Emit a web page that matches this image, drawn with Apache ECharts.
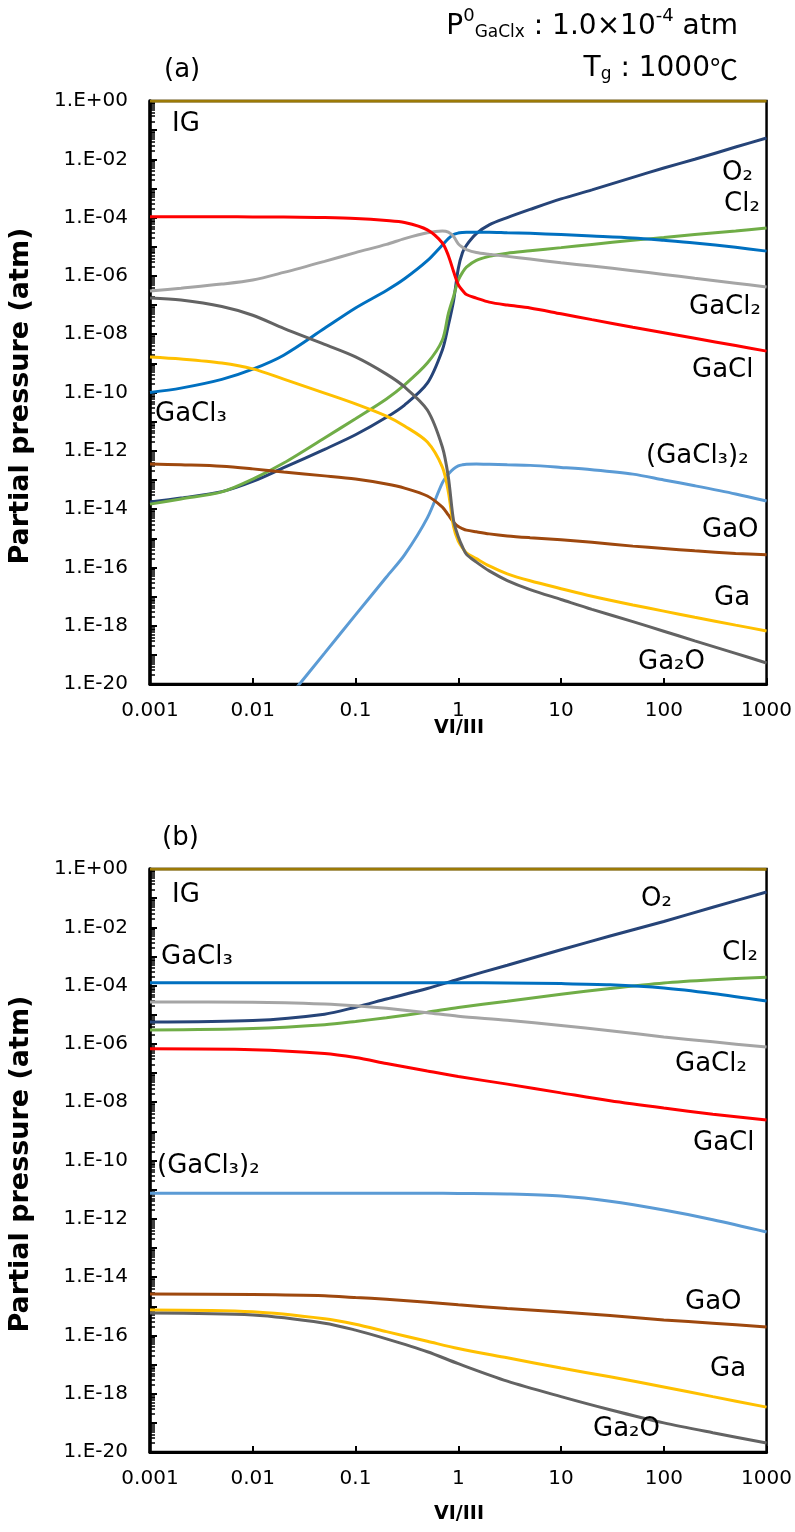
<!DOCTYPE html>
<html>
<head>
<meta charset="utf-8">
<script src="https://cdn.jsdelivr.net/npm/echarts@6/dist/echarts.min.js"></script>
<style>
  html, body { margin: 0; padding: 0; background: #fff; }
  #chart { width: 795px; height: 1532px; }
</style>
</head>
<body>
<div id="chart"></div>
<script>
// VI/III ratio (x) and log10 of partial pressure in atm (y)
// (a)
const xA = [0.001, 0.002, 0.005, 0.01, 0.02, 0.05, 0.1, 0.2, 0.3, 0.5, 0.7, 0.8, 0.9, 1,
  1.1, 1.2, 1.5, 2, 3, 5, 10, 20, 50, 100, 200, 500, 1000];
const igA = [0, 0, 0, 0, 0, 0, 0, 0, 0, 0, 0, 0, 0, 0, 0, 0, 0, 0, 0, 0, 0, 0, 0, 0, 0, 0, 0];
const o2A = [-13.76, -13.62, -13.4, -13.05, -12.58, -11.95, -11.45, -10.85, -10.43, -9.68, -8.54, -7.7, -6.85, -5.75,
  -5.2, -4.95, -4.55, -4.25, -4.0, -3.72, -3.36, -3.05, -2.62, -2.3, -2.0, -1.58, -1.27];
const cl2A = [-13.83, -13.65, -13.41, -12.97, -12.42, -11.56, -10.9, -10.22, -9.74, -8.99, -8.2, -7.3, -6.7, -6.15,
  -5.88, -5.7, -5.47, -5.33, -5.22, -5.14, -5.03, -4.92, -4.78, -4.68, -4.58, -4.46, -4.36];
const gacl3A = [-10.0, -9.85, -9.55, -9.2, -8.72, -7.8, -7.1, -6.5, -6.1, -5.48, -4.94, -4.72, -4.58, -4.53,
  -4.51, -4.5, -4.5, -4.5, -4.52, -4.54, -4.58, -4.63, -4.7, -4.78, -4.87, -5.02, -5.15];
const gacl2A = [-6.52, -6.42, -6.28, -6.14, -5.88, -5.5, -5.2, -4.92, -4.72, -4.52, -4.46, -4.5, -4.65, -4.9,
  -5.02, -5.1, -5.2, -5.26, -5.33, -5.42, -5.55, -5.66, -5.82, -5.95, -6.08, -6.25, -6.38];
const gaclA = [-3.97, -3.97, -3.97, -3.98, -3.98, -4.0, -4.03, -4.1, -4.17, -4.42, -4.87, -5.3, -5.85, -6.3,
  -6.5, -6.64, -6.76, -6.9, -7.0, -7.1, -7.3, -7.5, -7.76, -7.95, -8.14, -8.39, -8.58];
const dimerA = [null, null, null, null, -20.67, -18.94, -17.63, -16.33, -15.57, -14.3, -13.1, -12.8, -12.62, -12.52,
  -12.48, -12.46, -12.45, -12.46, -12.48, -12.5, -12.57, -12.65, -12.8, -13.0, -13.2, -13.48, -13.72];
const gaoA = [-12.45, -12.48, -12.53, -12.62, -12.73, -12.86, -12.97, -13.14, -13.28, -13.55, -13.93, -14.2, -14.45, -14.6,
  -14.67, -14.72, -14.78, -14.85, -14.92, -14.98, -15.05, -15.14, -15.27, -15.35, -15.43, -15.52, -15.57];
const gaA = [-8.78, -8.85, -8.99, -9.19, -9.54, -10.02, -10.39, -10.81, -11.15, -11.7, -12.56, -13.4, -14.6, -15.1,
  -15.33, -15.5, -15.7, -15.95, -16.22, -16.46, -16.73, -16.99, -17.29, -17.5, -17.71, -17.98, -18.18];
const ga2oA = [-6.76, -6.83, -7.05, -7.35, -7.8, -8.35, -8.78, -9.37, -9.81, -10.6, -11.87, -12.9, -14.4, -14.95,
  -15.3, -15.55, -15.82, -16.12, -16.45, -16.76, -17.1, -17.44, -17.86, -18.19, -18.52, -18.95, -19.28];

// (b)
const xB = [0.001, 0.01, 0.05, 0.1, 0.2, 0.5, 1, 3, 10, 30, 100, 300, 1000];
const igB = [0, 0, 0, 0, 0, 0, 0, 0, 0, 0, 0, 0, -0.01];
const o2B = [-5.25, -5.2, -4.98, -4.74, -4.46, -4.1, -3.78, -3.3, -2.77, -2.3, -1.8, -1.31, -0.79];
const cl2B = [-5.52, -5.47, -5.34, -5.23, -5.1, -4.91, -4.75, -4.54, -4.3, -4.1, -3.91, -3.8, -3.71];
const gacl3B = [-3.9, -3.9, -3.9, -3.9, -3.9, -3.9, -3.9, -3.91, -3.93, -3.97, -4.08, -4.27, -4.53];
const gacl2B = [-4.56, -4.57, -4.63, -4.69, -4.78, -4.93, -5.05, -5.19, -5.37, -5.55, -5.76, -5.93, -6.11];
const gaclB = [-6.17, -6.2, -6.33, -6.47, -6.67, -6.93, -7.12, -7.38, -7.68, -7.95, -8.2, -8.41, -8.61];
const dimerB = [-11.12, -11.12, -11.12, -11.12, -11.12, -11.12, -11.13, -11.15, -11.22, -11.4, -11.7, -12.03, -12.45];
const gaoB = [-14.58, -14.6, -14.64, -14.7, -14.76, -14.86, -14.95, -15.08, -15.2, -15.32, -15.47, -15.58, -15.71];
const gaB = [-15.13, -15.19, -15.43, -15.62, -15.87, -16.2, -16.45, -16.77, -17.12, -17.42, -17.77, -18.1, -18.46];
const ga2oB = [-15.23, -15.3, -15.58, -15.82, -16.12, -16.56, -16.97, -17.57, -18.1, -18.55, -19.0, -19.34, -19.69];

const yTickExp = [0, -2, -4, -6, -8, -10, -12, -14, -16, -18, -20];

const colors = {
  IG: '#9C7A06', O2: '#264478', Cl2: '#70AD47', GaCl3: '#0070C0', GaCl2: '#A5A5A5',
  GaCl: '#FF0000', dimer: '#5B9BD5', GaO: '#9E480E', Ga: '#FFC000', Ga2O: '#636363'
};

const chart = echarts.init(document.getElementById('chart'));

function toPoints(xs, logs) {
  return xs.map((x, i) => [x, logs[i] == null ? null : Math.pow(10, logs[i])]);
}

function line(name, xs, logs, color, idx) {
  return {
    name, type: 'line', xAxisIndex: idx, yAxisIndex: idx,
    data: toPoints(xs, logs),
    showSymbol: false, symbol: 'none',
    smooth: 0.3,
    lineStyle: { color, width: 3 },
    z: 3
  };
}

function expLabel(v) {
  const e = Math.round(Math.log10(v));
  if (yTickExp.indexOf(e) < 0) return '';
  return '1.E' + (e < 0 ? '-' : '+') + String(Math.abs(e)).padStart(2, '0');
}

const txtFont = '"DejaVu Sans", "Noto Sans CJK JP"';

function xAxisOf(idx) {
  return {
    type: 'log', gridIndex: idx, logBase: 10, min: 0.001, max: 1000, interval: 1,
    axisLine: { lineStyle: { color: '#000', width: 3 } },
    axisTick: { inside: true, length: 6, lineStyle: { color: '#000', width: 2 } },
    axisLabel: {
      color: '#000', fontFamily: 'DejaVu Sans', fontSize: 20, margin: 17,
      formatter: v => String(Number(v.toPrecision(3)))
    },
    splitLine: { show: false }
  };
}

function yAxisOf(idx) {
  return {
    type: 'log', gridIndex: idx, logBase: 10, min: 1e-20, max: 1, interval: 1,
    axisLine: { lineStyle: { color: '#000', width: 3.5 } },
    axisTick: { inside: true, length: 7, lineStyle: { color: '#000', width: 2 } },
    minorTick: { show: true, splitNumber: 9, length: 5, lineStyle: { color: '#000', width: 1.5 } },
    axisLabel: { color: '#000', fontFamily: 'DejaVu Sans', fontSize: 20, margin: 22, formatter: expLabel },
    splitLine: { show: false }
  };
}

function note(text, x, y) {
  return {
    type: 'text', x, y, z: 100,
    style: {
      text, fill: '#000', font: '26px ' + txtFont,
      align: 'left', verticalAlign: 'middle', textAlign: 'left', textVerticalAlign: 'middle'
    }
  };
}

function axisName(text, x, y, rot, size) {
  return {
    type: 'text', x, y, rotation: rot, z: 100,
    style: {
      text, fill: '#000', font: 'bold ' + size + 'px "DejaVu Sans"',
      align: 'center', verticalAlign: 'middle', textAlign: 'center', textVerticalAlign: 'middle'
    }
  };
}

const headRich = {
  m: { fontSize: 28, fontFamily: txtFont, fontWeight: 'normal', color: '#000', lineHeight: 34, verticalAlign: 'bottom' },
  c: { fontSize: 28, fontFamily: 'Noto Sans CJK JP', fontWeight: 'normal', color: '#000', lineHeight: 34, verticalAlign: 'bottom' },
  sup: { fontSize: 18, fontFamily: txtFont, fontWeight: 'normal', color: '#000', lineHeight: 16, verticalAlign: 'top' },
  sub: { fontSize: 17, fontFamily: txtFont, fontWeight: 'normal', color: '#000', lineHeight: 16, verticalAlign: 'bottom' }
};

chart.setOption({
  animation: false,
  backgroundColor: '#fff',
  title: [
    { text: '{m|P}{sup|0}{sub|GaClx}{m| : 1.0×10}{sup|-4}{m| atm}', right: 52, top: 2,
      textStyle: { fontWeight: 'normal', rich: headRich } },
    { text: '{m|T}{sub|g}{m| : 1000}{c|℃}', right: 52, top: 44,
      textStyle: { fontWeight: 'normal', rich: headRich } }
  ],
  grid: [
    { left: 150, right: 28, top: 101, height: 583, show: true, borderColor: '#000', borderWidth: 2.5 },
    { left: 150, right: 28, top: 869, height: 583, show: true, borderColor: '#000', borderWidth: 2.5 }
  ],
  xAxis: [xAxisOf(0), xAxisOf(1)],
  yAxis: [yAxisOf(0), yAxisOf(1)],
  series: [
    line('IG', xA, igA, colors.IG, 0),
    line('O2', xA, o2A, colors.O2, 0),
    line('Cl2', xA, cl2A, colors.Cl2, 0),
    line('GaCl3', xA, gacl3A, colors.GaCl3, 0),
    line('GaCl2', xA, gacl2A, colors.GaCl2, 0),
    line('GaCl', xA, gaclA, colors.GaCl, 0),
    line('(GaCl3)2', xA, dimerA, colors.dimer, 0),
    line('GaO', xA, gaoA, colors.GaO, 0),
    line('Ga', xA, gaA, colors.Ga, 0),
    line('Ga2O', xA, ga2oA, colors.Ga2O, 0),
    line('IG', xB, igB, colors.IG, 1),
    line('O2', xB, o2B, colors.O2, 1),
    line('Cl2', xB, cl2B, colors.Cl2, 1),
    line('GaCl3', xB, gacl3B, colors.GaCl3, 1),
    line('GaCl2', xB, gacl2B, colors.GaCl2, 1),
    line('GaCl', xB, gaclB, colors.GaCl, 1),
    line('(GaCl3)2', xB, dimerB, colors.dimer, 1),
    line('GaO', xB, gaoB, colors.GaO, 1),
    line('Ga', xB, gaB, colors.Ga, 1),
    line('Ga2O', xB, ga2oB, colors.Ga2O, 1)
  ],
  graphic: [
    note('(a)', 164, 70),
    note('(b)', 162, 838),
    axisName('Partial pressure (atm)', 21, 396, Math.PI / 2, 27),
    axisName('Partial pressure (atm)', 21, 1164, Math.PI / 2, 27),
    axisName('VI/III', 459, 728, 0, 19),
    axisName('VI/III', 459, 1514, 0, 19),
    // (a) labels
    note('IG', 172, 124),
    note('O₂', 722, 173),
    note('Cl₂', 724, 204),
    note('GaCl₂', 689, 307),
    note('GaCl', 692, 370),
    note('GaCl₃', 155, 414),
    note('(GaCl₃)₂', 646, 456),
    note('GaO', 702, 530),
    note('Ga', 714, 598),
    note('Ga₂O', 638, 662),
    // (b) labels
    note('IG', 172, 895),
    note('GaCl₃', 161, 957),
    note('O₂', 641, 899),
    note('Cl₂', 722, 953),
    note('GaCl₂', 675, 1064),
    note('GaCl', 693, 1143),
    note('(GaCl₃)₂', 157, 1166),
    note('GaO', 685, 1302),
    note('Ga', 710, 1369),
    note('Ga₂O', 593, 1429)
  ]
});
</script>
</body>
</html>
